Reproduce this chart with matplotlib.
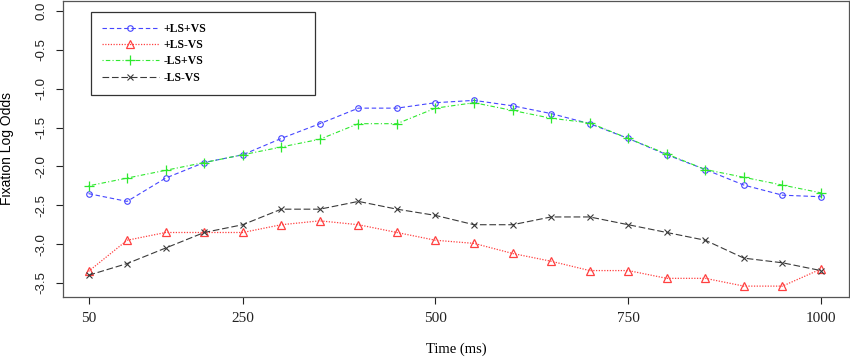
"""
Fixation log odds over time for the four LS/VS conditions.
"""

import matplotlib
matplotlib.use("Agg")
import matplotlib.pyplot as plt

# Time bins (ms)
time_ms = [50, 100, 150, 200, 250, 300, 350, 400, 450, 500,
           550, 600, 650, 700, 750, 800, 850, 900, 950, 1000]

# Fixation log odds per condition
ls_vs = [-2.35, -2.45, -2.15, -1.95, -1.85, -1.64, -1.45, -1.25, -1.25, -1.18,
         -1.15, -1.22, -1.32, -1.45, -1.64, -1.85, -2.04, -2.24, -2.37, -2.39]
ls_novs = [-3.35, -2.95, -2.85, -2.85, -2.85, -2.75, -2.70, -2.75, -2.85, -2.95,
           -2.99, -3.12, -3.22, -3.34, -3.34, -3.44, -3.44, -3.54, -3.54, -3.32]
nols_vs = [-2.25, -2.15, -2.05, -1.95, -1.85, -1.75, -1.65, -1.45, -1.45, -1.25,
           -1.18, -1.28, -1.38, -1.44, -1.64, -1.84, -2.04, -2.14, -2.24, -2.34]
nols_novs = [-3.40, -3.25, -3.05, -2.85, -2.75, -2.55, -2.55, -2.45, -2.55, -2.63,
             -2.75, -2.75, -2.65, -2.65, -2.75, -2.85, -2.95, -3.18, -3.24, -3.34]

labels = ["+LS+VS", "+LS-VS", "-LS+VS", "-LS-VS"]
x_ticks = [50, 250, 500, 750, 1000]
y_ticks = [0.0, -0.5, -1.0, -1.5, -2.0, -2.5, -3.0, -3.5]

fig = plt.figure(figsize=(8.5, 3.59), dpi=100)
ax = fig.add_axes([63 / 850, 1 - 297 / 359, 786 / 850, 296.5 / 359])

ax.plot(time_ms, ls_vs, color="#4646ff", linestyle=(0, (4, 2.5)), lw=0.8,
        marker="o", markersize=4, markerfacecolor="none", markeredgewidth=0.8,
        label=labels[0])
ax.plot(time_ms, ls_novs, color="#ff4040", linestyle=(0, (1, 1.2)), lw=0.9,
        marker="^", markersize=5.5, markerfacecolor="none", markeredgewidth=0.9,
        label=labels[1])
ax.plot(time_ms, nols_vs, color="#2ee82e", linestyle=(0, (1, 2, 4, 2)), lw=0.8,
        marker="+", markersize=7, markeredgewidth=0.9, label=labels[2])
ax.plot(time_ms, nols_novs, color="#3a3a3a", linestyle=(0, (6, 2.5)), lw=0.8,
        marker="x", markersize=5, markeredgewidth=0.8, label=labels[3])

ax.set_xlim(16.9, 1036.3)
ax.set_ylim(-3.68, 0.135)
ax.set_xticks(x_ticks)
ax.set_xticklabels([str(t) for t in x_ticks], family="Liberation Serif",
                   fontsize=11)
ax.set_yticks(y_ticks)
ax.set_yticklabels([f"{t:.1f}" for t in y_ticks], family="Liberation Sans",
                   fontsize=9.5, rotation=90, va="center")
ax.tick_params(axis="x", length=5, width=0.8, pad=5.5, colors="#222222")
ax.tick_params(axis="y", length=5, width=0.8, pad=6.5, colors="#222222")

for spine in ax.spines.values():
    spine.set_color("#555555")
    spine.set_linewidth(0.9)

ax.set_xlabel("Time (ms)", family="Liberation Serif", fontsize=10.5,
              labelpad=13)
ax.set_ylabel("Fixation Log Odds", family="Liberation Sans", fontsize=10)
ax.yaxis.set_label_coords(-0.0623, 0.5)

leg_top = 1 - 11.2 / 296.5
leg = ax.legend(loc="upper left",
                bbox_to_anchor=(27.7 / 786, leg_top - 0.1, 224 / 786, 0.1),
                mode="expand", borderaxespad=0, fancybox=False,
                edgecolor="#333333", framealpha=1, handlelength=4.8,
                handletextpad=0.4, labelspacing=0.36, borderpad=0.95,
                prop={"family": "Liberation Serif", "weight": "bold",
                      "size": 8.5})
leg.get_frame().set_linewidth(0.9)

fig.savefig("out.png", dpi=100)
